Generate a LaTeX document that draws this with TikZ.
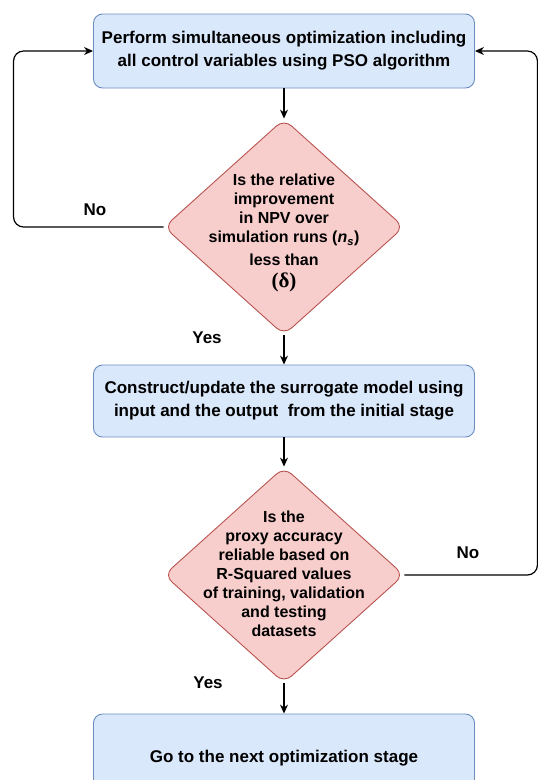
\documentclass[tikz,border=0pt]{standalone}
\usepackage{fontspec}
\setmainfont{Liberation Sans}
\newfontfamily\deltafont{Liberation Serif}
\usetikzlibrary{arrows.meta,shapes.geometric}

\definecolor{boxfill}{HTML}{DAE8FC}
\definecolor{boxline}{HTML}{6C8EBF}
\definecolor{diafill}{HTML}{F8CECC}
\definecolor{dialine}{HTML}{B85450}

\tikzset{
	stepbox/.style={draw=boxline, fill=boxfill, rounded corners=9pt, line width=0.9pt, minimum width=381pt, font=\fontsize{17}{23}\selectfont\bfseries, align=center},
	decision/.style={diamond, draw=dialine, fill=diafill, rounded corners=10pt, line width=0.9pt, minimum width=240pt, minimum height=216pt, inner sep=0pt},
	decisiontext/.style={font=\fontsize{16}{19}\selectfont\bfseries, align=center},
	flow/.style={line width=1.2pt, -{Stealth[length=9pt,width=8pt]}},
	answer/.style={font=\fontsize{17}{20}\selectfont\bfseries}
}

\begin{document}
\begin{tikzpicture}[x=1pt, y=1pt]
	%%%%% START %%%%%
	
	\clip (0,0) rectangle (538,-780);
	
	\node[stepbox, minimum height=74pt] (optimize) at (284,-51) {Perform simultaneous optimization including\\all control variables using PSO algorithm};
	
	\node[decision] (check) at (284,-227) {};
	\node[decisiontext] (checktext) at (284,-233) {Is the relative\\improvement\\in NPV over\\simulation runs (\textit{n}\textsubscript{\textit{s}})\\[4pt]less than\\[3pt]{\deltafont\fontsize{21}{21}\selectfont (δ)}};
	
	\node[stepbox, minimum height=72pt] (surrogate) at (284,-401) {Construct/update the surrogate model using\\input and the output\ \ from the initial stage};
	
	\node[decision] (proxy) at (284,-575) {};
	\node[decisiontext] (proxytext) at (284,-574) {Is the\\proxy accuracy\\reliable based on\\R-Squared values\\of training, validation\\and testing\\datasets};
	
	\node[stepbox, minimum height=88pt] (nextstage) at (284,-758) {Go to the next optimization stage};
	
	\node[answer] (checkno) at (95,-210) {No};
	\node[answer] (checkyes) at (207,-338) {Yes};
	\node[answer] (proxyno) at (468,-553) {No};
	\node[answer] (proxyyes) at (208,-683) {Yes};
	
	\draw[flow] (optimize.south) -- (check.north);
	\draw[flow] (check.south) -- (surrogate.north);
	\draw[flow] (surrogate.south) -- (proxy.north);
	\draw[flow] (proxy.south) -- (nextstage.north);
	
	\draw[flow, rounded corners=10pt] (check.west) -- ++(-150,0) |- (optimize.west);
	\draw[flow, rounded corners=10pt] (proxy.east) -- ++(133,0) |- (optimize.east);
	
	%%%%% END %%%%%
\end{tikzpicture}
\end{document}
